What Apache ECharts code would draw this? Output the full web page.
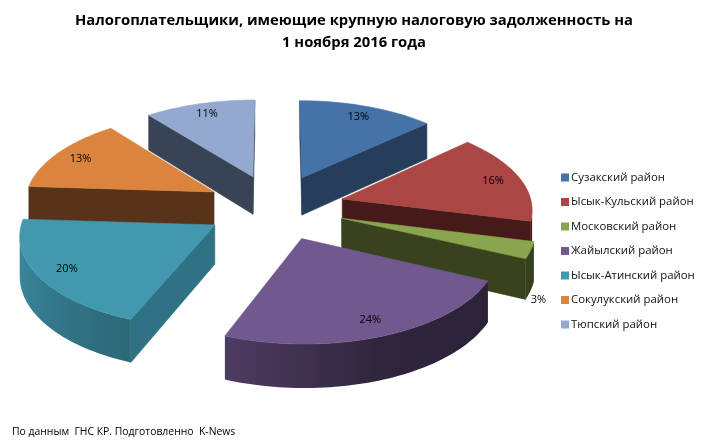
<!DOCTYPE html>
<html><head><meta charset="utf-8">
<style>html,body{margin:0;padding:0;background:#fff}#c{width:708px;height:445px}</style>
<script src="https://cdn.jsdelivr.net/npm/echarts@6/dist/echarts.min.js"></script>
</head><body><div id="c"></div>
<script>
var titleText = 'Налогоплательщики, имеющие крупную налоговую задолженность на\n1 ноября 2016 года';
var sourceText = 'По данным  ГНС КР. Подготовленно  K-News';
var districts = ['Сузакский район','Ысык-Кульский район','Московский район','Жайылский район','Ысык-Атинский район','Сокулукский район','Тюпский район'];
var shares = [13,16,3,24,20,13.45,10.55];
var topColors = ['#4572A7','#AA4643','#89A54E','#71588F','#4198AF','#DB843D','#93A9CF'];
var wallColors = ['#263E5B','#451A18','#38431E','#2C2338','#2F7283','#57331A','#394356'];
var paintOrder = [1,3,4,6,5,2,0];
var outsideLabel = [false,false,true,false,false,false,false];

var CX=275, CY=207, K=0.00049, TILT=0.47, R=190, EXPLODE=70, H=38.5, LABEL_R=0.85;
var total = shares.reduce(function(a,b){return a+b;},0);
var shadeStops = [[100,0.38],[160,0.42],[200,0.68],[275,0.95],[360,0.95]];

function project(X,Y,z){ var s=1/(1+K*Y); return [CX+X*s, CY-Y*TILT*s+z*s]; }
function dir(deg){ var a=deg*Math.PI/180; return [Math.sin(a),Math.cos(a)]; }
function area(p){ var t=0; for(var i=0;i<p.length;i++){var q=p[(i+1)%p.length]; t+=p[i][0]*q[1]-q[0]*p[i][1];} return t; }
function shade(hex,f){ var n=parseInt(hex.slice(1),16);
  return 'rgb('+Math.round((n>>16&255)*f)+','+Math.round((n>>8&255)*f)+','+Math.round((n&255)*f)+')'; }
function shadeAt(deg){ for(var i=1;i<shadeStops.length;i++){ if(deg<=shadeStops[i][0]){
  var a=shadeStops[i-1],b=shadeStops[i]; return a[1]+(b[1]-a[1])*Math.max(0,(deg-a[0]))/(b[0]-a[0]); } } return 0.95; }
function poly(pts,color){ return {type:'polygon',shape:{points:pts},silent:true,
  style:{fill:color,stroke:color,lineWidth:0.6}}; }

function startAngle(i){ var c=0; for(var j=0;j<i;j++) c+=shares[j]; return c/total*360; }

function sliceRenderer(i){ return function(params,api){
  var value=api.value(0), a0=startAngle(i), a1=a0+value/total*360, mid=(a0+a1)/2;
  var d=dir(mid), ax=d[0]*EXPLODE, ay=d[1]*EXPLODE;
  var rim=[], steps=Math.max(4,Math.ceil((a1-a0)/1.5));
  for(var k=0;k<=steps;k++){ var t=a0+(a1-a0)*k/steps, u=dir(t); rim.push([ax+u[0]*R,ay+u[1]*R,t]); }
  var perim=[[ax,ay,null]].concat(rim);
  var kids=[], arcTop=[], arcBot=[], arcAngles=[];
  for(var n=0;n<perim.length;n++){
    var p=perim[n], q=perim[(n+1)%perim.length];
    var quad=[project(p[0],p[1],0),project(q[0],q[1],0),project(q[0],q[1],H),project(p[0],p[1],H)];
    if(area(quad)>=0) continue;
    if(p[2]!==null&&q[2]!==null){
      if(!arcTop.length){ arcTop.push(quad[0]); arcBot.push(quad[3]); arcAngles.push(p[2]); }
      arcTop.push(quad[1]); arcBot.push(quad[2]); arcAngles.push(q[2]);
    } else kids.push(poly(quad,wallColors[i]));
  }
  if(arcTop.length){
    var xs=arcTop.concat(arcBot).map(function(v){return v[0];});
    var minX=Math.min.apply(null,xs), maxX=Math.max.apply(null,xs), span=Math.max(1,maxX-minX);
    var stops=arcTop.map(function(v,j){ return {offset:Math.min(1,Math.max(0,(v[0]-minX)/span)),
      color:shade(topColors[i],shadeAt(arcAngles[j]))}; }).sort(function(a,b){return a.offset-b.offset;});
    kids.push({type:'polygon',silent:true,shape:{points:arcTop.concat(arcBot.slice().reverse())},
      style:{fill:new echarts.graphic.LinearGradient(minX,0,maxX,0,stops,true)}});
  }
  kids.push(poly(perim.map(function(p){return project(p[0],p[1],0);}),topColors[i]));
  var lp=outsideLabel[i]?project(ax+d[0]*R*1.04,ay+d[1]*R*1.04,H+8)
                        :project(ax+d[0]*R*LABEL_R,ay+d[1]*R*LABEL_R,0);
  kids.push({type:'text',silent:true,x:lp[0],y:lp[1],style:{text:Math.round(value)+'%',fill:'#000',
    font:'11px "Open Sans"',textAlign:'center',textVerticalAlign:'middle'}});
  return {type:'group',children:kids};
};}

var chart=echarts.init(document.getElementById('c'),null,{renderer:'canvas'});
chart.setOption({
  animation:false,
  backgroundColor:'#fff',
  title:[
    {text:titleText,left:'center',top:5,
     textStyle:{fontFamily:'Open Sans',fontSize:14.8,fontWeight:'bold',color:'#000',lineHeight:22}},
    {text:sourceText,left:7,top:422,textStyle:{fontFamily:'Open Sans',fontSize:10.4,fontWeight:'normal',color:'#000'}}
  ],
  legend:{orient:'vertical',left:561,top:172,padding:0,itemWidth:8,itemHeight:8,itemGap:13.5,icon:'rect',
    data:districts,selectedMode:false,
    textStyle:{fontFamily:'Open Sans',fontSize:11.4,color:'#111',padding:[0,0,0,-3]}},
  tooltip:{show:false},
  series:districts.map(function(name,i){ return {
    type:'custom',name:name,coordinateSystem:'none',silent:true,
    z:2+paintOrder[i],
    itemStyle:{color:topColors[i]},
    renderItem:sliceRenderer(i),
    data:[[shares[i]]]
  };})
});
</script></body></html>
